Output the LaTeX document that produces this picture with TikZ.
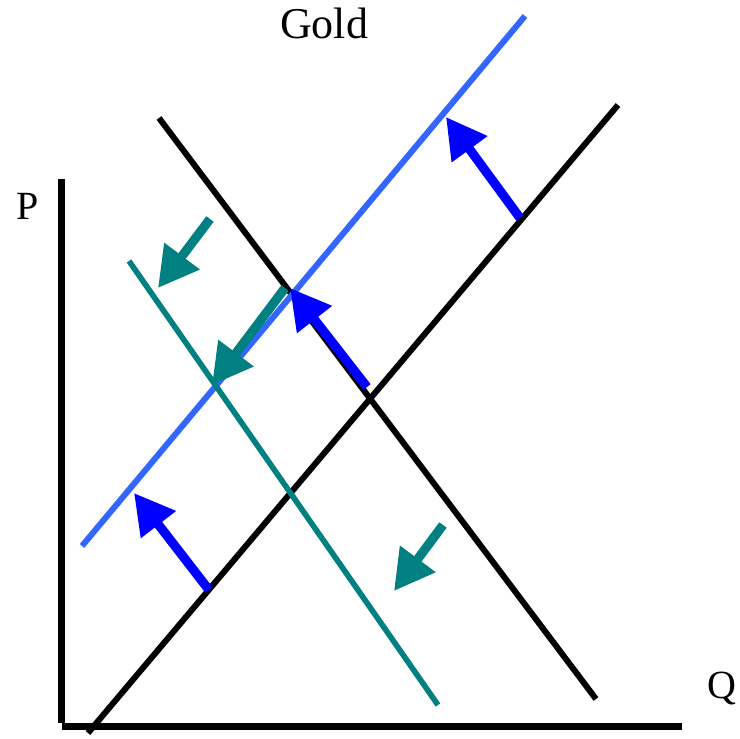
\documentclass[tikz,border=0pt]{standalone}
\usepackage{fontspec}
\setmainfont{Liberation Serif}
\usepackage{tikz}
\usetikzlibrary{arrows.meta}

\definecolor{shiftblue}{RGB}{51,102,255}
\definecolor{arrowblue}{RGB}{0,0,255}
\definecolor{demandteal}{RGB}{0,128,128}

\tikzset{
  axis/.style={line width=3.5pt},
  curve/.style={line width=3pt},
  shiftarrow/.style={line width=4.6pt, -{Triangle[length=20pt,width=21pt]}},
  lab/.style={font=\fontsize{20}{24}\selectfont, inner sep=0pt}
}

\begin{document}
\begin{tikzpicture}[x=0.5pt, y=-0.5pt]
  \useasboundingbox (0,0) rectangle (740,739);

  % Assi
  \coordinate (ptop) at (61.5,179);
  \coordinate (pbot) at (61.5,723);
  \coordinate (qstart) at (62,726.5);
  \coordinate (qend) at (682,726.5);
  \draw[axis] (ptop) -- (pbot);
  \draw[axis] (qstart) -- (qend);
  \node[lab] (plabel) at (27.5,206) {P};
  \node[lab] (qlabel) at (722,688) {Q};
  \node[lab, font=\fontsize{22}{26}\selectfont] (title) at (324,23) {Gold};

  % Offerta e domanda iniziali
  \coordinate (s1a) at (88,733);
  \coordinate (s1b) at (618,105);
  \coordinate (d1a) at (159,118);
  \coordinate (d1b) at (596,699);
  \draw[curve] (s1a) -- (s1b);
  \draw[curve] (d1a) -- (d1b);

  % Offerta spostata
  \coordinate (s2a) at (82,546);
  \coordinate (s2b) at (525,16);
  \draw[curve, shiftblue] (s2a) -- (s2b);

  % Domanda spostata
  \coordinate (d2a) at (129,261);
  \coordinate (d2b) at (438,705);
  \draw[curve, demandteal, line width=2.8pt] (d2a) -- (d2b);

  % Frecce dell'offerta
  \coordinate (sfrom1) at (209,590);
  \coordinate (sto1) at (134,493);
  \coordinate (sfrom2) at (367,387);
  \coordinate (sto2) at (290,288);
  \coordinate (sfrom3) at (520,218);
  \coordinate (sto3) at (446,117);
  \draw[shiftarrow, arrowblue] (sfrom1) -- (sto1);
  \draw[shiftarrow, arrowblue] (sfrom2) -- (sto2);
  \draw[shiftarrow, arrowblue] (sfrom3) -- (sto3);

  % Frecce della domanda
  \coordinate (dfrom1) at (210,219);
  \coordinate (dto1) at (158,288);
  \coordinate (dfrom2) at (285,288);
  \coordinate (dto2) at (212,385);
  \coordinate (dfrom3) at (443,525);
  \coordinate (dto3) at (394,591);
  \draw[shiftarrow, demandteal] (dfrom1) -- (dto1);
  \draw[shiftarrow, demandteal] (dfrom2) -- (dto2);
  \draw[shiftarrow, demandteal] (dfrom3) -- (dto3);
\end{tikzpicture}
\end{document}
